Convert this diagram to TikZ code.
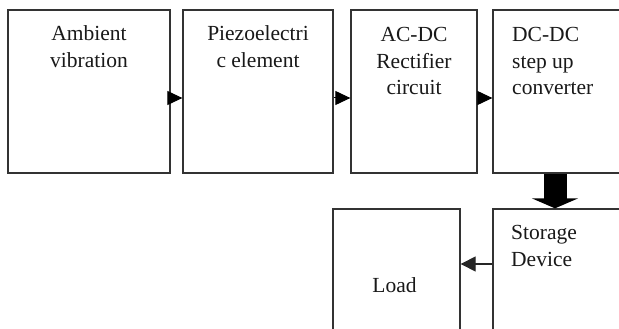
\documentclass[tikz,border=0pt]{standalone}
\usepackage{fontspec}
\setmainfont{Liberation Serif}
\usetikzlibrary{arrows.meta,calc}
\begin{document}
\begin{tikzpicture}[x=1pt,y=-1pt,
  blk/.style={draw=black!80,line width=1.3pt,rectangle,inner sep=0pt},
  lbl/.style={inner sep=0pt,font=\fontsize{21.5}{26.8}\selectfont,text=black!90},
  smallarrow/.style={line width=1pt,draw=black,-{Triangle[length=15pt,width=14pt]}},
  bigarrow/.style={line width=23pt,draw=black,-{Triangle[length=10pt,width=46pt]}},
  backarrow/.style={line width=1.1pt,draw=black!85,-{Triangle[length=15pt,width=15pt]}}]
\useasboundingbox (0,0) rectangle (619,329);
\clip (0,0) rectangle (619,329);
\fill[white] (0,0) rectangle (619,329);
% boxes
\node[blk,minimum width=162pt,minimum height=163pt] (b1) at (89,91.5) {};
\node[blk,minimum width=150pt,minimum height=163pt] (b2) at (258,91.5) {};
\node[blk,minimum width=126pt,minimum height=163pt] (b3) at (414,91.5) {};
\node[blk,minimum width=140pt,minimum height=163pt] (b4) at (563,91.5) {};
\node[blk,minimum width=140pt,minimum height=135pt] (st) at (563,276.5) {};
\node[blk,minimum width=127pt,minimum height=135pt] (ld) at (396.5,276.5) {};
% labels (base anchor = baseline of last line)
\node[lbl,anchor=base,align=center] (t1) at (89,67) {Ambient\\vibration};
\node[lbl,anchor=base,align=center] (t2) at (258,67) {Piezoelectri\\c element};
\node[lbl,anchor=base,align=center] (t3) at (414,95) {AC-DC\\Rectifier\\circuit};
\node[lbl,anchor=base west,align=left] (t4) at (512,95) {DC-DC\\step up\\converter};
\node[lbl,anchor=base west,align=left] (ts) at (511,266) {Storage\\Device};
\node[lbl,anchor=base] (tl) at (394.5,292) {Load};
% connectors
\coordinate (ay) at (0,98);
\coordinate (ax) at (555,0);
\coordinate (by) at (0,264);
\draw[smallarrow] (b1.east |- ay) -- (b2.west |- ay);
\draw[smallarrow] (b2.east |- ay) -- (b3.west |- ay);
\draw[smallarrow] (b3.east |- ay) -- (b4.west |- ay);
\draw[bigarrow] (b4.south -| ax) -- (st.north -| ax);
\draw[backarrow] (st.west |- by) -- (ld.east |- by);
\end{tikzpicture}
\end{document}
